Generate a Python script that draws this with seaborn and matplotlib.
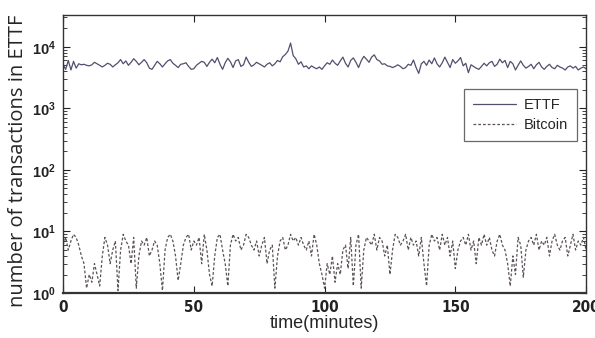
import numpy as np
import pandas as pd
import matplotlib
matplotlib.use("Agg")
import matplotlib.pyplot as plt
import seaborn as sns
from matplotlib.ticker import LogLocator, NullFormatter, FixedLocator

time_min = list(range(0, 201))

ettf = [5200, 4300, 6000, 4200, 5800, 4500, 5300, 5100, 5200, 5000, 4900,
        5100, 5600, 5300, 5000, 4700, 5000, 5400, 5200, 4700, 5100,
        5500, 6200, 5300, 5900, 5000, 5600, 6400, 5800, 5100, 5600,
        6200, 5500, 4500, 4300, 5000, 5800, 5300, 4700, 5300, 5900,
        6200, 5400, 5000, 4600, 5200, 5300, 5500, 4800, 4300, 4400,
        5000, 5400, 5800, 5600, 4800, 5600, 6300, 5500, 6700, 5200,
        4300, 5500, 6500, 5700, 4600, 5900, 6200, 4800, 5100, 6800,
        5600, 4800, 5100, 5600, 5300, 5000, 4700, 5200, 5500, 4900,
        5300, 6000, 5700, 6900, 7500, 8500, 11500, 7200, 6400, 5200,
        5700, 4700, 4900, 4400, 4900, 4600, 4400, 4700, 4300, 4900,
        5500, 5200, 6100, 5400, 5000, 5900, 6800, 5400, 4700, 6000,
        6600, 5600, 4600, 5900, 7000, 6300, 5600, 6800, 7400, 6200,
        5900, 5200, 5300, 4900, 4800, 4600, 4800, 5100, 4800, 4400,
        4600, 5200, 5000, 6100, 4600, 3700, 5300, 5800, 5000, 6100,
        5300, 6600, 5300, 4700, 5500, 6800, 5600, 4600, 6200, 5400,
        5900, 6700, 4900, 5400, 3800, 5100, 4800, 4500, 4300, 4800,
        5400, 4900, 5500, 5800, 4800, 5200, 6300, 5500, 6000, 4600,
        5800, 5300, 4200, 5000, 5900, 5000, 4500, 4800, 5200, 4400,
        5100, 5600, 4700, 4300, 4800, 5200, 4600, 4400, 5000, 4700,
        4500, 4200, 4700, 4900, 4500, 4800, 4200, 4500, 4700, 4400]

bitcoin = [6, 8, 5, 7, 9, 8, 6, 4, 3, 1.2, 2,
           1.5, 3, 2, 1.3, 4, 8, 6, 3, 5, 7,
           1.1, 5, 9, 7, 6, 3, 8, 1.2, 4, 7,
           6, 8, 4, 5, 7, 6, 3, 1.1, 5, 8,
           9, 7, 4, 1.6, 3, 6, 8, 9, 5, 7,
           6, 8, 3, 9, 5, 2, 1.3, 4, 8, 9,
           5, 3, 1.3, 6, 9, 7, 8, 5, 6, 9,
           8, 6, 5, 7, 4, 6, 8, 3, 5, 6,
           1.2, 4, 7, 8, 5, 6, 9, 7, 8, 6,
           8, 6, 5, 7, 4, 9, 6, 3, 2, 1.2,
           3, 2, 4, 1.5, 3, 2, 5, 6, 2.5, 8,
           1.3, 6, 9, 1.2, 5, 8, 7, 6, 9, 5,
           8, 7, 4, 6, 2, 5, 9, 8, 6, 7,
           9, 5, 8, 6, 7, 4, 8, 3, 1.3, 6,
           9, 7, 8, 5, 9, 6, 8, 4, 7, 2.5,
           5, 7, 8, 6, 9, 5, 7, 3, 8, 6,
           9, 6, 8, 5, 4, 7, 9, 6, 5, 3,
           1.3, 4, 2, 8, 6, 1.8, 5, 7, 8, 6,
           9, 5, 7, 6, 8, 4, 7, 9, 6, 5,
           7, 8, 4, 6, 9, 5, 7, 6, 8, 5]

x_ticks = [0, 50, 100, 150, 200]
x_ticklabels = ["0", "50", "100", "150", "200"]

sns.set_theme(style="white")
plt.rcParams['font.family'] = ['Liberation Sans', 'DejaVu Sans']

df_e = pd.DataFrame({"t": time_min, "v": ettf})
df_b = pd.DataFrame({"t": time_min, "v": bitcoin})

fig = plt.figure(figsize=(5.95, 3.38), dpi=100)
ax = fig.add_axes([0.106, 0.133, 0.879, 0.823])

sns.lineplot(data=df_e, x="t", y="v", ax=ax, color="#50506e", linewidth=0.9, label="ETTF")
sns.lineplot(data=df_b, x="t", y="v", ax=ax, color="#5a5258", linewidth=0.9,
             linestyle=(0, (2.2, 1.6)), label="Bitcoin")

ax.set_yscale("log")
ax.set_xlim(0, 200)
ax.set_ylim(1, 3.3e4)

tick_font = dict(family="DejaVu Sans", stretch="condensed", weight="bold", size=11)
ax.xaxis.set_major_locator(FixedLocator(x_ticks))
ax.set_xticklabels(x_ticklabels, fontdict=tick_font)
ax.yaxis.set_major_locator(LogLocator(base=10, numticks=10))
ax.yaxis.set_minor_locator(LogLocator(base=10, subs=np.arange(2, 10), numticks=20))
ax.yaxis.set_minor_formatter(NullFormatter())
for lbl in ax.get_yticklabels():
    lbl.set_fontweight("bold")
    lbl.set_fontsize(10.5)
    lbl.set_fontstretch("condensed")

ax.tick_params(which="both", direction="in", top=True, right=True, left=True, bottom=True,
               colors="#222222")
ax.tick_params(which="major", length=5, width=0.8, pad=5)
ax.tick_params(which="minor", length=3, width=0.6)
for s in ax.spines.values():
    s.set_color("#333333")
    s.set_linewidth(1.0)
ax.spines["bottom"].set_linewidth(1.6)

ax.set_xlabel("time(minutes)", fontsize=13, labelpad=0)
ax.set_ylabel("number of transactions in ETTF", fontsize=14.5,
              family=["Open Sans", "DejaVu Sans"])
ax.yaxis.set_label_coords(-0.068, 0.475)

leg = ax.legend(loc="center", bbox_to_anchor=(0.874, 0.64), frameon=True, fancybox=False,
                edgecolor="#444444", fontsize=10.5, handlelength=3.0, borderpad=0.6,
                labelspacing=0.4, handletextpad=0.5)
leg.get_frame().set_linewidth(0.9)

fig.savefig("out.png", dpi=100)
